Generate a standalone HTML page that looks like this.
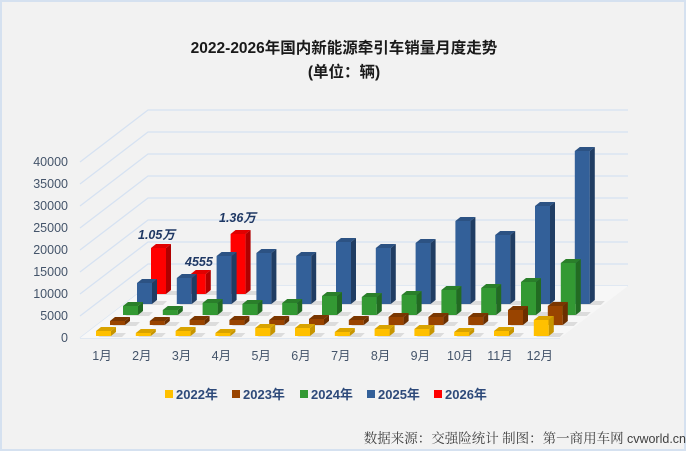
<!DOCTYPE html>
<html><head><meta charset="utf-8"><style>
html,body{margin:0;padding:0;background:#fff;}
svg{display:block;font-family:"Liberation Sans","Noto Sans CJK SC",sans-serif;}
</style></head><body>
<svg id="s" width="689" height="455" viewBox="0 0 689 455" xmlns="http://www.w3.org/2000/svg">
<rect x="0" y="0" width="689" height="455" fill="#fff"/>
<rect x="1" y="1" width="684" height="449" fill="#f2f2f2" stroke="#d5e1f0" stroke-width="2"/>
<text x="344" y="53" text-anchor="middle" font-size="15.5" font-weight="bold" fill="#1a1a1a">2022-2026年国内新能源牵引车销量月度走势</text>
<text x="344" y="77" text-anchor="middle" font-size="15.5" font-weight="bold" fill="#1a1a1a">(单位：辆)</text>
<g id="grid"></g>
<polygon points="80,338 148,286 628,286 560,338" fill="#f7f7f7"/>
<g id="bars"></g>
<g font-size="12.5" fill="#44546a" text-anchor="end" id="ylab"></g>
<g font-size="12.5" fill="#44546a" text-anchor="middle" id="xlab"></g>
<g font-size="12.5" font-weight="bold" font-style="italic" fill="#1f3864">
<text x="138" y="239">1.05万</text>
<text x="185" y="266">4555</text>
<text x="219" y="222">1.36万</text>
</g>
<g font-size="13" font-weight="bold" fill="#2e4a7a">
<rect x="165" y="390" width="8" height="8" fill="#ffc000"/><text x="176" y="399">2022年</text>
<rect x="232" y="390" width="8" height="8" fill="#994400"/><text x="243" y="399">2023年</text>
<rect x="300" y="390" width="8" height="8" fill="#339933"/><text x="311" y="399">2024年</text>
<rect x="367" y="390" width="8" height="8" fill="#336099"/><text x="378" y="399">2025年</text>
<rect x="434" y="390" width="8" height="8" fill="#ff0000"/><text x="445" y="399">2026年</text>
</g>
<text x="686" y="443" text-anchor="end" font-size="13.5" fill="#404040" font-family="Liberation Serif,'Noto Serif CJK SC',serif">数据来源：交强险统计 制图：第一商用车网 <tspan font-family="Liberation Sans,sans-serif" font-size="12.5">cvworld.cn</tspan></text>
</svg>
<script>
var NS="http://www.w3.org/2000/svg";
function el(p,t,a){var e=document.createElementNS(NS,t);for(var k in a)e.setAttribute(k,a[k]);p.appendChild(e);return e;}
var g=document.getElementById('grid'),yl=document.getElementById('ylab'),xl=document.getElementById('xlab');
for(var i=0;i<=8;i++){var yf=338-22*i,yb=yf-52;
 el(g,'polyline',{points:"80,"+yf+" 148,"+yb+" 628,"+yb,fill:"none",stroke:"#d6e2f2","stroke-width":1.3});
 var t=el(yl,'text',{x:68,y:yf+4});t.textContent=String(5000*i);}
el(g,'line',{x1:80,y1:338,x2:560,y2:338,stroke:"#d6e2f2","stroke-width":1.3});
for(var m=0;m<12;m++){var t=el(xl,'text',{x:102+39.8*m,y:360});t.textContent=(m+1)+"月";}
var rows=[
 {c:["#ffc000","#d9a300","#c79500"],x:96,y:336,h:[5,3,5,3,8,8,4,7,7,4,5,16]},
 {c:["#994400","#7a3600","#6b2f00"],x:110,y:325,h:[4,4,5,5,5,6,5,8,8,8,15,19]},
 {c:["#339933","#2a7f2a","#226b22"],x:123,y:315,h:[9,5,12,11,12,19,18,20,25,27,33,52]},
 {c:["#336099","#2c5283","#203d63"],x:137,y:304,h:[21,26,48,51,48,62,56,61,83,69,98,153]},
 {c:["#ff0000","#e00000","#b00000"],x:151,y:294,h:[46,20,60]}
];
var b=document.getElementById('bars');
var W=15,dx=5,dy=4;
for(var r=rows.length-1;r>=0;r--){var R=rows[r];
 for(var m=R.h.length-1;m>=0;m--){var x=R.x+39.8*m,yb=R.y,h=R.h[m],yt=yb-h;
  el(b,'polygon',{points:(x+2)+","+(yb+1)+" "+(x+W+dx+6)+","+(yb+1)+" "+(x+W+dx+10)+","+(yb-3)+" "+(x+dx+4)+","+(yb-3),fill:"#dcdcdc"});
  el(b,'rect',{x:x,y:yt,width:W,height:h,fill:R.c[0]});
  el(b,'polygon',{points:(x+W)+","+yt+" "+(x+W+dx)+","+(yt-dy)+" "+(x+W+dx)+","+(yb-dy)+" "+(x+W)+","+yb,fill:R.c[2]});
  el(b,'polygon',{points:x+","+yt+" "+(x+dx)+","+(yt-dy)+" "+(x+W+dx)+","+(yt-dy)+" "+(x+W)+","+yt,fill:R.c[1]});
 }}
</script>
</body></html>
